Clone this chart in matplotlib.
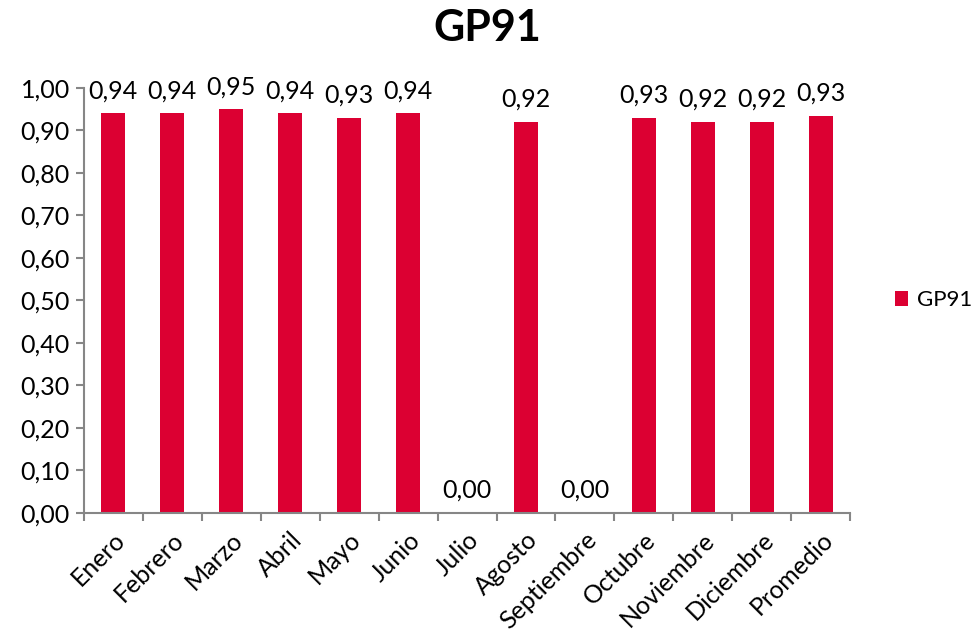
import numpy as np
import matplotlib.pyplot as plt

plt.rcParams['font.family'] = ['Lato', 'DejaVu Sans']

months = ['Enero', 'Febrero', 'Marzo', 'Abril', 'Mayo', 'Junio', 'Julio',
          'Agosto', 'Septiembre', 'Octubre', 'Noviembre', 'Diciembre', 'Promedio']
values = [0.94, 0.94, 0.95, 0.94, 0.93, 0.94, 0.0, 0.92, 0.0, 0.93, 0.92, 0.92, 0.934]
yticks = np.arange(0, 1.01, 0.1)

color = '#DC0032'
grey = '#868686'

fig = plt.figure(figsize=(9.74, 6.33), dpi=100)
ax = fig.add_axes([0.086, 0.19, 0.787, 0.671])

x = np.arange(len(months))
bars = ax.bar(x, values, width=0.41, color=color, label='GP91')

for xi, v in zip(x, values):
    ax.annotate(f'{v:.2f}'.replace('.', ','), (xi, v), xytext=(0, 8),
                textcoords='offset points', ha='center', va='bottom', fontsize=18)

ax.set_xlim(-0.5, len(months) - 0.5)
ax.set_ylim(0, 1.0)
ax.set_yticks(yticks)
ax.set_yticklabels([f'{t:.2f}'.replace('.', ',') for t in yticks], fontsize=18)
ax.set_xticks(x)
ax.set_xticklabels(months, rotation=45, ha='right', rotation_mode='anchor', fontsize=18)
ax.set_xticks(np.arange(-0.5, len(months)), minor=True)
ax.tick_params(axis='x', which='major', length=0, pad=11)
ax.tick_params(axis='x', which='minor', length=6, color=grey, width=1.5)
ax.tick_params(axis='y', length=6, color=grey, width=1.5, pad=4)

for s in ['top', 'right']:
    ax.spines[s].set_visible(False)
for s in ['left', 'bottom']:
    ax.spines[s].set_color(grey)
    ax.spines[s].set_linewidth(1.5)

fig.text(0.5, 0.955, 'GP91', ha='center', va='center', fontsize=31, fontweight='bold')

ax.legend(loc='center left', bbox_to_anchor=(1.0, 0.5), frameon=False, fontsize=16,
          handlelength=0.6, handleheight=0.6, handletextpad=0.4, borderaxespad=1.6)

fig.savefig('out.png', dpi=100)
